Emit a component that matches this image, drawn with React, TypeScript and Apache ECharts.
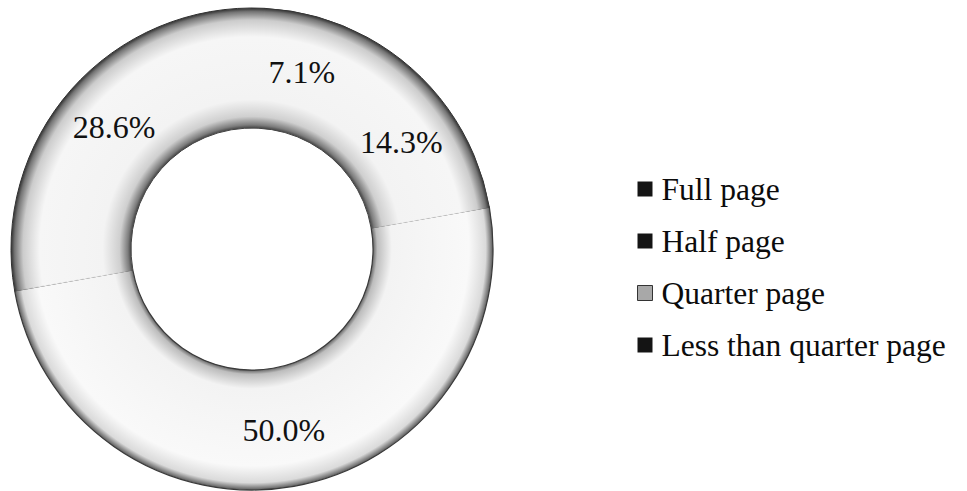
import React, { useEffect, useRef } from "react";
import * as echarts from "echarts";

// Share of advertisement sizes
const categories = ["Full page", "Half page", "Quarter page", "Less than quarter page"];
const shares = [7.1, 14.3, 28.6, 50.0];
// Order in which the slices run clockwise around the ring
const ringOrder = ["Less than quarter page", "Quarter page", "Full page", "Half page"];
const legendColors = ["#141414", "#141414", "#a8a8a8", "#141414"];

const W = 967;
const H = 491;
const CX = 252;
const CY = 249;
const R_IN = 121;
const R_OUT = 241;
const SERIF = "Liberation Serif";

const bevel = (stops: [number, string][]) => ({
  type: "radial",
  x: CX,
  y: CY,
  r: R_OUT,
  global: true,
  colorStops: stops.map(([offset, color]) => ({ offset, color })),
});

const upperFill = () =>
  bevel([
    [0.5, "#3c3c3c"],
    [0.515, "#7c7c7c"],
    [0.55, "#cfcfcf"],
    [0.62, "#f3f3f3"],
    [0.88, "#f6f6f6"],
    [0.95, "#cccccc"],
    [0.985, "#747474"],
    [1, "#303030"],
  ]);

const lowerFill = bevel([
  [0.5, "#5a5a5a"],
  [0.52, "#bdbdbd"],
  [0.58, "#f3f3f3"],
  [0.9, "#f9f9f9"],
  [0.97, "#dadada"],
  [1, "#5a5a5a"],
]);

export default function App() {
  const ref = useRef<HTMLDivElement>(null);

  useEffect(() => {
    if (!ref.current) return;
    const chart = echarts.init(ref.current, null, { renderer: "svg" });

    const data = ringOrder.map((name) => {
      const value = shares[categories.indexOf(name)];
      const isLower = name === "Less than quarter page";
      return {
        name,
        value,
        itemStyle: isLower
          ? { color: lowerFill, borderColor: "#3a3a3a", borderWidth: 1.2 }
          : { color: upperFill(), borderColor: upperFill(), borderWidth: 1 },
      };
    });

    chart.setOption({
      animation: false,
      backgroundColor: "#ffffff",
      legend: {
        orient: "vertical",
        left: 637,
        top: 173,
        padding: 0,
        icon: "rect",
        itemWidth: 15,
        itemHeight: 15,
        itemGap: 20,
        selectedMode: false,
        textStyle: {
          fontFamily: SERIF,
          fontSize: 31.5,
          lineHeight: 31,
          color: "#0c0c0c",
          padding: [0, 0, 0, 4],
        },
        data: categories.map((name, i) => ({
          name,
          itemStyle:
            name === "Quarter page"
              ? { color: legendColors[i], borderColor: "#333333", borderWidth: 1 }
              : { color: legendColors[i], borderWidth: 0 },
        })),
      },
      series: [
        {
          type: "pie",
          center: [CX, CY],
          radius: [R_IN, R_OUT],
          startAngle: 10,
          clockwise: true,
          silent: true,
          avoidLabelOverlap: false,
          label: {
            show: true,
            position: "inside",
            formatter: (p: any) => `${Number(p.value).toFixed(1)}%`,
            fontFamily: SERIF,
            fontSize: 32,
            color: "#111111",
          },
          labelLine: { show: false },
          data,
        },
      ],
    });

    return () => chart.dispose();
  }, []);

  return (
    <div
      ref={ref}
      style={{ position: "fixed", left: 0, top: 0, width: W, height: H, background: "#fff" }}
    />
  );
}
